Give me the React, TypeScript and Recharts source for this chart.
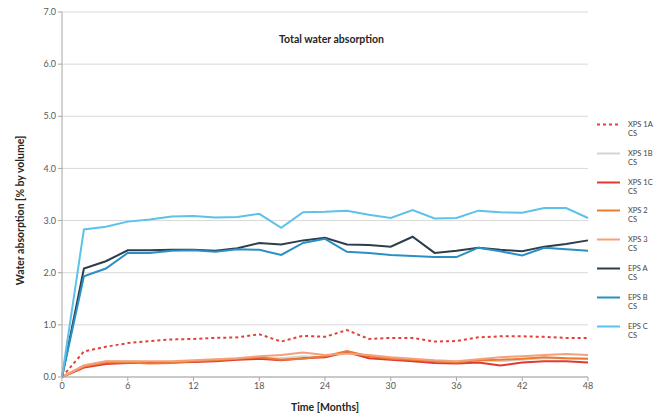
import { LineChart, Line, XAxis, YAxis, CartesianGrid } from 'recharts';

// measurement months
const months = [0, 2, 4, 6, 8, 10, 12, 14, 16, 18, 20, 22, 24, 26, 28, 30, 32, 34, 36, 38, 40, 42, 44, 46, 48];

// water absorption [% by volume]
const xps1a = [0, 0.49, 0.58, 0.65, 0.69, 0.72, 0.73, 0.75, 0.76, 0.82, 0.68, 0.79, 0.77, 0.9, 0.73, 0.75, 0.75, 0.68, 0.69, 0.76, 0.78, 0.78, 0.77, 0.75, 0.75];
const xps1b = [0, 0.22, 0.3, 0.3, 0.29, 0.29, 0.31, 0.33, 0.34, 0.36, 0.36, 0.4, 0.38, 0.46, 0.38, 0.35, 0.33, 0.3, 0.29, 0.32, 0.3, 0.33, 0.36, 0.36, 0.35];
const xps1c = [0, 0.18, 0.25, 0.27, 0.27, 0.28, 0.29, 0.3, 0.33, 0.35, 0.32, 0.36, 0.38, 0.48, 0.36, 0.33, 0.3, 0.27, 0.26, 0.28, 0.22, 0.28, 0.3, 0.3, 0.28];
const xps2 = [0, 0.2, 0.28, 0.28, 0.26, 0.27, 0.3, 0.32, 0.35, 0.38, 0.33, 0.35, 0.4, 0.5, 0.4, 0.35, 0.33, 0.3, 0.28, 0.32, 0.33, 0.35, 0.38, 0.36, 0.35];
const xps3 = [0, 0.22, 0.3, 0.3, 0.3, 0.3, 0.32, 0.34, 0.36, 0.4, 0.42, 0.47, 0.42, 0.45, 0.42, 0.38, 0.35, 0.32, 0.3, 0.34, 0.38, 0.4, 0.42, 0.44, 0.42];
const epsA = [0, 2.08, 2.22, 2.43, 2.43, 2.44, 2.44, 2.42, 2.47, 2.57, 2.54, 2.62, 2.67, 2.54, 2.53, 2.5, 2.69, 2.38, 2.42, 2.48, 2.44, 2.41, 2.5, 2.55, 2.62];
const epsB = [0, 1.93, 2.08, 2.38, 2.38, 2.42, 2.43, 2.4, 2.45, 2.44, 2.34, 2.57, 2.65, 2.4, 2.38, 2.34, 2.32, 2.3, 2.3, 2.48, 2.41, 2.33, 2.48, 2.45, 2.42];
const epsC = [0, 2.83, 2.88, 2.98, 3.02, 3.08, 3.09, 3.06, 3.07, 3.13, 2.86, 3.16, 3.17, 3.19, 3.11, 3.05, 3.2, 3.04, 3.05, 3.19, 3.16, 3.15, 3.24, 3.24, 3.05];

const xTicks = [0, 6, 12, 18, 24, 30, 36, 42, 48];
const yTicks = [0, 1, 2, 3, 4, 5, 6, 7];

const series = [
  { key: 'xps1a', name: 'XPS 1A', values: xps1a, color: '#e2403a', dash: '3 3' },
  { key: 'xps1b', name: 'XPS 1B', values: xps1b, color: '#d4d4d4' },
  { key: 'xps1c', name: 'XPS 1C', values: xps1c, color: '#e03a30' },
  { key: 'xps2', name: 'XPS 2', values: xps2, color: '#ec7a2e' },
  { key: 'xps3', name: 'XPS 3', values: xps3, color: '#f4a07a' },
  { key: 'epsA', name: 'EPS A', values: epsA, color: '#2e3d4c' },
  { key: 'epsB', name: 'EPS B', values: epsB, color: '#2a8fc4' },
  { key: 'epsC', name: 'EPS C', values: epsC, color: '#5cc2ea' },
];

const data = months.map((m, i) => {
  const row: Record<string, number> = { month: m };
  series.forEach((s) => { row[s.key] = s.values[i]; });
  return row;
});

const FONT = 'Lato, "Liberation Sans", sans-serif';

// legend drawn beside the plot, two-line labels like the original
const LegendBox = () => (
  <div style={{ position: 'absolute', left: 597, top: 120, fontFamily: FONT, fontSize: 7.5, color: '#444', lineHeight: '9px' }}>
    {series.map((s) => (
      <div key={s.key} style={{ display: 'flex', alignItems: 'flex-start', height: 28.8 }}>
        <svg width={26} height={9} style={{ marginRight: 5 }}>
          <line x1={0} y1={4.5} x2={23} y2={4.5} stroke={s.color} strokeWidth={2} strokeDasharray={s.dash} />
        </svg>
        <div>
          <div>{s.name}</div>
          <div>CS</div>
        </div>
      </div>
    ))}
  </div>
);

export default function App() {
  return (
    <div style={{ position: 'relative', width: 659, height: 414, background: '#fff' }}>
      <style>{'body{margin:0}'}</style>
      <LineChart width={659} height={414} data={data} margin={{ top: 12, right: 71, bottom: 0, left: 0 }}>
        <CartesianGrid vertical={false} stroke="#d9d9d9" />
        <XAxis
          dataKey="month"
          type="number"
          domain={[0, 48]}
          ticks={xTicks}
          height={37}
          stroke="#a6a6a6"
          tick={{ fill: '#595959', fontSize: 9, fontFamily: FONT }}
          tickSize={4}
          label={{ value: 'Time [Months]', position: 'insideBottom', offset: 3, fill: '#262626', fontSize: 10.5, fontWeight: 700, fontFamily: FONT }}
        />
        <YAxis
          domain={[0, 7]}
          ticks={yTicks}
          width={62}
          stroke="#a6a6a6"
          tickFormatter={(v: number) => v.toFixed(1)}
          tick={{ fill: '#595959', fontSize: 9, fontFamily: FONT }}
          tickSize={4}
          label={{ value: 'Water absorption [% by volume]', angle: -90, position: 'insideLeft', offset: 20, dy: 16, fill: '#262626', fontSize: 10.5, fontWeight: 700, fontFamily: FONT, style: { textAnchor: 'middle' } }}
        />
        {series.map((s) => (
          <Line
            key={s.key}
            dataKey={s.key}
            name={s.name}
            stroke={s.color}
            strokeWidth={2}
            strokeDasharray={s.dash}
            dot={false}
            type="linear"
            isAnimationActive={false}
          />
        ))}
      </LineChart>
      <LegendBox />
      <div style={{ position: 'absolute', left: 0, top: 33, width: 659, textAlign: 'center', fontFamily: FONT, fontSize: 10.5, fontWeight: 700, color: '#262626', paddingLeft: 2 }}>
        Total water absorption
      </div>
    </div>
  );
}
